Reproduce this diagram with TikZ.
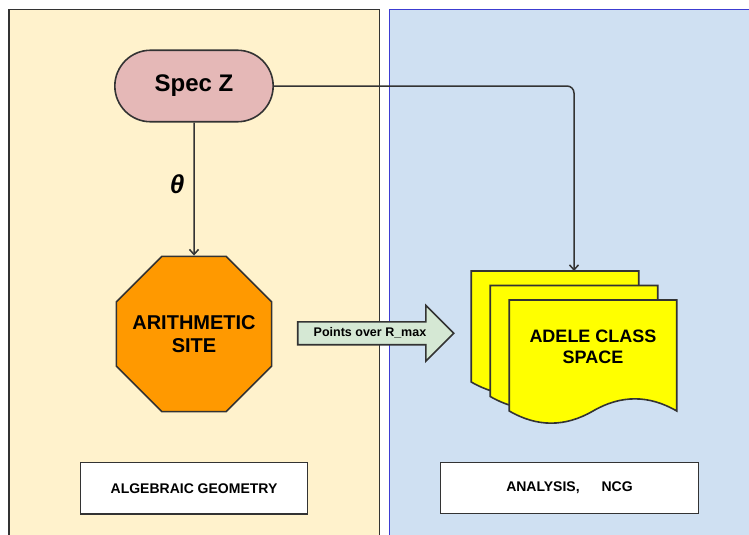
\documentclass[tikz,border=0pt]{standalone}
\usepackage{fontspec}
\setmainfont{Liberation Sans}
\usetikzlibrary{shapes.geometric, shapes.misc, shapes.arrows, arrows.meta, positioning}
\definecolor{lineGray}{HTML}{333333}
\definecolor{specRed}{RGB}{229,184,183}
\definecolor{siteOrange}{HTML}{FF9900}
\definecolor{docYellow}{HTML}{FFFF00}
\definecolor{pointGreen}{HTML}{D5E8D4}
\definecolor{algYellow}{HTML}{FFF2CC}
\definecolor{ncgBlue}{RGB}{207,224,242}
\definecolor{panelBlue}{RGB}{60,60,210}
\tikzset{
	terminal/.style={
		rounded rectangle, 
		minimum width=165pt, 
		minimum height=71.5pt, 
		draw=lineGray, 
		line width=1.6pt,
		fill=specRed,
		font=\bfseries\fontsize{24}{28}\selectfont
	},
	site/.style={
		regular polygon, 
		regular polygon sides=8, 
		minimum size=168pt, 
		inner sep=0pt,
		draw=lineGray, 
		line width=1.6pt,
		fill=siteOrange
	},
	sitetext/.style={
		align=center, 
		font=\bfseries\fontsize{20}{22.7}\selectfont
	},
	document/.style={
		rectangle, 
		minimum width=167.5pt, 
		minimum height=111pt, 
		inner sep=0pt,
		outer sep=0pt
	},
	docline/.style={
		draw=lineGray, 
		line width=1.6pt,
		fill=docYellow
	},
	doctext/.style={
		align=center,
		font=\bfseries\fontsize{18}{20.5}\selectfont
	},
	pointer/.style={
		single arrow, 
		minimum height=156pt, 
		single arrow head extend=16.35pt,
		single arrow tip angle=90,
		text height=9pt,
		text depth=2.5pt,
		inner ysep=4.9pt,
		inner xsep=2pt,
		draw=lineGray, 
		line width=1.6pt,
		fill=pointGreen,
		font=\bfseries\fontsize{12.5}{15}\selectfont
	},
	caption/.style={
		rectangle, 
		minimum width=226.3pt, 
		minimum height=51.3pt, 
		draw=lineGray, 
		line width=1.2pt,
		fill=white,
		font=\bfseries\fontsize{14}{16}\selectfont
	},
	arrow/.style={line width=1.5pt, draw=lineGray, -{Straight Barb[length=5pt,width=9pt]}}
}

\begin{document}
\begin{tikzpicture}[x=1pt, y=-1pt]
				\path[use as bounding box, clip] (0,0) rectangle (749,535);
				\draw [fill=algYellow, draw=lineGray, line width=1.1pt] (9,9.3) rectangle (379.3,545);
				\draw [fill=ncgBlue, draw=panelBlue, line width=0.9pt] (389.3,9) rectangle (760,545);
				
				\node (specz) [terminal] at (194,86) {Spec Z};
				\node (arith) [site, below=133pt of specz, label={[sitetext]center:ARITHMETIC\\SITE}] {};
				\node (adeleback) [document] at (555,326.5) {};
				\node (adelemid) [document] at (574,341) {};
				\node (adele) [document] at (593,355.5) {};
				\foreach \doc in {adeleback, adelemid, adele}
					\draw [docline] (\doc.north west) -- (\doc.north east) -- (\doc.south east)
						.. controls +(-27.9,-16.2) and +(27.9,-16.2) .. (\doc.south)
						.. controls +(-27.9,16.2) and +(27.9,16.2) .. (\doc.south west) -- cycle;
				\node (adeletext) [doctext] at ([yshift=8.5pt]adele.center) {ADELE CLASS\\SPACE};
				\node (points) [pointer] at (370,333.3) {Points over R\_max};
				\node (alg) [caption] at (194,488.3) {ALGEBRAIC GEOMETRY};
				\node (ncg) [caption, minimum width=258pt] at (569.5,488) {ANALYSIS,\hspace{22pt}NCG};
				
				\draw [arrow] (specz) -- node[left=9pt, pos=0.46, inner sep=0pt, font=\bfseries\itshape\fontsize{26}{28}\selectfont] {θ} (arith);
				\draw [arrow, rounded corners=7pt] (specz.east) -| (adelemid.center |- adeleback.north);
			\end{tikzpicture}
\end{document}
